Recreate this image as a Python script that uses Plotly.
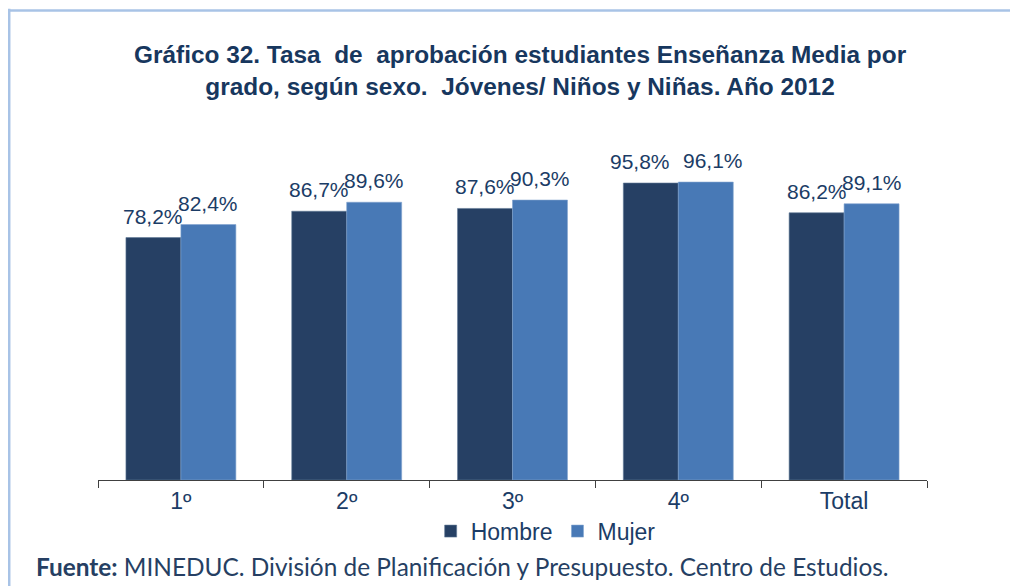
import plotly.graph_objects as go

categories = ["1º", "2º", "3º", "4º", "Total"]
hombre = [78.2, 86.7, 87.6, 95.8, 86.2]
mujer = [82.4, 89.6, 90.3, 96.1, 89.1]
series_names = ["Hombre", "Mujer"]
title_lines = ["Gráfico 32. Tasa  de  aprobación estudiantes Enseñanza Media por",
               "grado, según sexo.  Jóvenes/ Niños y Niñas. Año 2012"]
source_bold = "Fuente:"
source_text = " MINEDUC. División de Planificación y Presupuesto. Centro de Estudios."

# extra horizontal nudges of the labels (px), as the reference separates the crowded 4º pair
nudge_h = [0, 0, 0, -11, 0]
nudge_m = [0, 0, 0, 7, 0]

C_H = "#264064"
C_M = "#4879B6"
TXT = "#1B3C66"
FONT = "Liberation Sans, Arial"

def fmt(v):
    return f"{v:.1f}".replace(".", ",") + "%"

fig = go.Figure()
fig.add_trace(go.Bar(x=categories, y=hombre, name=series_names[0],
                     marker=dict(color=C_H, line=dict(color="#5F7896", width=0.6))))
fig.add_trace(go.Bar(x=categories, y=mujer, name=series_names[1],
                     marker=dict(color=C_M, line=dict(color="#7FA2CF", width=0.6))))

ann = []
for c, h, m, nh, nm in zip(categories, hombre, mujer, nudge_h, nudge_m):
    ann.append(dict(x=c, y=h, xref="x", yref="y", text=fmt(h), showarrow=False,
                    xshift=-27.5 + nh, yshift=8, yanchor="bottom",
                    font=dict(family=FONT, size=21, color=TXT)))
    ann.append(dict(x=c, y=m, xref="x", yref="y", text=fmt(m), showarrow=False,
                    xshift=27.5 + nm, yshift=8, yanchor="bottom",
                    font=dict(family=FONT, size=21, color=TXT)))

ann.append(dict(x=-0.0772, y=-0.28, xref="paper", yref="paper", xanchor="left", yanchor="middle",
                showarrow=False, text=f"<b>{source_bold}</b>{source_text}",
                font=dict(family="Lato, Carlito, sans-serif", size=24.4, color="#263F63")))

fig.update_layout(
    width=1010, height=578,
    margin=dict(l=90, r=91, t=162, b=106),
    paper_bgcolor="white", plot_bgcolor="white",
    barmode="group", bargap=0.337, bargroupgap=0,
    title=dict(text="<br>".join(f"<b>{t}</b>" for t in title_lines),
               x=0.507, xanchor="center", y=1 - 55 / 578, yanchor="middle",
               font=dict(family=FONT, size=24.4, color="#17375E")),
    xaxis=dict(showline=True, linecolor="#404040", linewidth=1, ticks="outside",
               tickson="boundaries", ticklen=7, tickcolor="#404040",
               tickfont=dict(family=FONT, size=23, color=TXT),
               showgrid=False),
    yaxis=dict(range=[0, 100], visible=False, showgrid=False),
    legend=dict(orientation="h", x=0.540, xanchor="center", y=-0.165, yanchor="middle",
                font=dict(family=FONT, size=23, color=TXT),
                itemwidth=30, tracegroupgap=0),
    annotations=ann,
    showlegend=True,
)

fig.add_shape(type="line", xref="paper", yref="paper", x0=-0.12, x1=1.2, y0=1.5145, y1=1.5145,
              line=dict(color="#A8C3E6", width=2.5))
fig.add_shape(type="line", xref="paper", yref="paper", x0=-0.1071, x1=-0.1071, y0=1.52, y1=-0.5,
              line=dict(color="#A8C3E6", width=2.5))

fig.write_html("out.html")
